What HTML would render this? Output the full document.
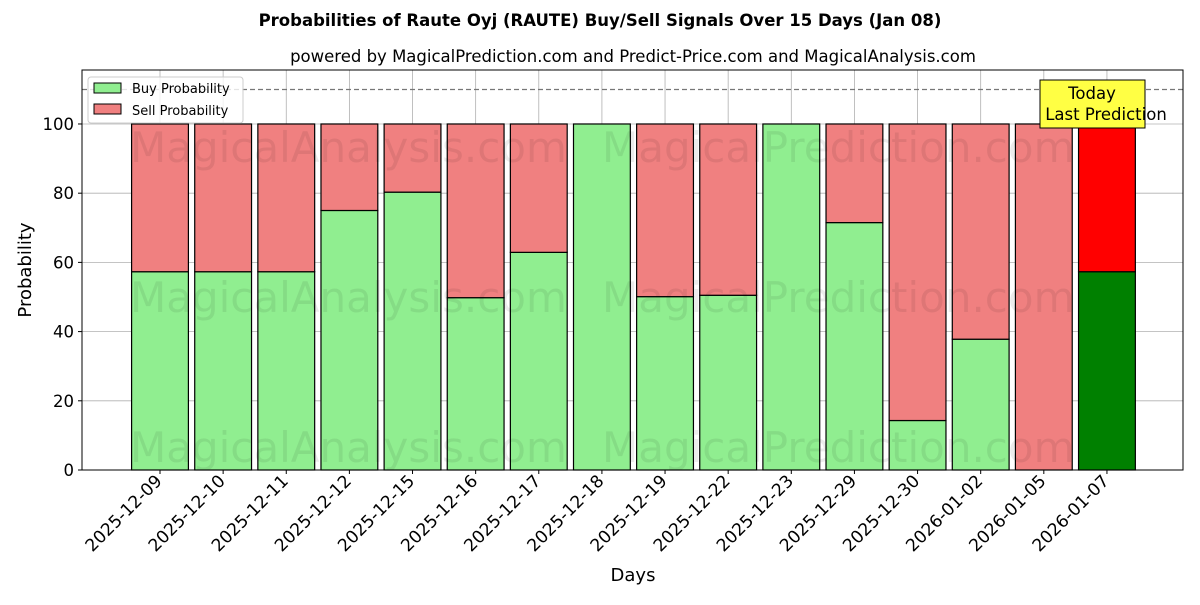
<!DOCTYPE html>
<html><head><meta charset="utf-8"><style>
body{margin:0;background:#fff;font-family:"Liberation Sans","DejaVu Sans",sans-serif}
svg text{font-family:"DejaVu Sans","Liberation Sans",sans-serif}
</style></head><body>
<svg id="chart" width="1200" height="600" xmlns="http://www.w3.org/2000/svg">
<text x="600" y="26" text-anchor="middle" font-size="16.5" font-weight="bold">Probabilities of Raute Oyj (RAUTE) Buy/Sell Signals Over 15 Days (Jan 08)</text>
<text x="633" y="62" text-anchor="middle" font-size="16.5">powered by MagicalPrediction.com and Predict-Price.com and MagicalAnalysis.com</text>
<g id="grid"></g>
<g id="bars"></g>
<g id="wm" font-size="42" fill="#000" opacity="0.07">
<text x="130" y="162">MagicalAnalysis.com</text><text x="602" y="162">MagicalPrediction.com</text>
<text x="130" y="312">MagicalAnalysis.com</text><text x="602" y="312">MagicalPrediction.com</text>
<text x="130" y="462">MagicalAnalysis.com</text><text x="602" y="462">MagicalPrediction.com</text>
</g>
<line x1="82" x2="1183" y1="89.5" y2="89.5" stroke="#777" stroke-dasharray="5,3" stroke-width="1.2"/>
<rect x="82" y="70" width="1101" height="400" fill="none" stroke="#000" stroke-width="1"/>
<g id="axes"></g>
<g>
<rect x="88" y="77" width="155" height="46" fill="#fff" fill-opacity="0.8" stroke="#ccc" rx="3"/>
<rect x="94" y="83" width="27" height="10" fill="#90ee90" stroke="#000"/>
<text x="132" y="93" font-size="13">Buy Probability</text>
<rect x="94" y="104" width="27" height="10" fill="#f08080" stroke="#000"/>
<text x="132" y="115" font-size="13">Sell Probability</text>
</g>
<g>
<rect x="1040" y="80" width="105" height="48" fill="#ffff44" stroke="#000"/>
<text x="1092" y="99" text-anchor="middle" font-size="16.5">Today</text>
<text x="1106" y="120" text-anchor="middle" font-size="16.5">Last Prediction</text>
</g>
<text x="633" y="581" text-anchor="middle" font-size="18">Days</text>
<text transform="translate(31,270) rotate(-90)" text-anchor="middle" font-size="18">Probability</text>
</svg>
<script>
const dates=["2025-12-09","2025-12-10","2025-12-11","2025-12-12","2025-12-15","2025-12-16","2025-12-17","2025-12-18","2025-12-19","2025-12-22","2025-12-23","2025-12-29","2025-12-30","2026-01-02","2026-01-05","2026-01-07"];
const buyVals=[57.3,57.3,57.3,75,80.3,49.8,62.9,100,50.1,50.5,100,71.5,14.3,37.8,0,57.3];
const yTicks=[0,20,40,60,80,100];
const NS="http://www.w3.org/2000/svg";
const X0=82,X1=1183,Y0=470,Y1=70,ymax=115.6;
const C0=160,STEP=63.13;
const xs=i=>C0+i*STEP;
const ys=v=>Y0-v/ymax*(Y0-Y1);
function mk(t,a,p){const e=document.createElementNS(NS,t);for(const k in a)e.setAttribute(k,a[k]);p.appendChild(e);return e;}
const grid=document.getElementById('grid'),bars=document.getElementById('bars'),axes=document.getElementById('axes');
yTicks.forEach(v=>{
 const g=mk('line',{x1:X0,x2:X1,y1:ys(v),y2:ys(v),stroke:'#b0b0b0','stroke-width':0.8},grid);
 
 
 mk('line',{x1:X0-4,x2:X0,y1:ys(v),y2:ys(v),stroke:'#000'},axes);
 const t=mk('text',{x:X0-8,y:ys(v)+6,'text-anchor':'end','font-size':16.5},axes);t.textContent=v;
 
 
});
const w=0.9*STEP;
dates.forEach((d,i)=>{
 const cx=xs(i);
 const gl=mk('line',{x1:cx,x2:cx,y1:Y1,y2:Y0,stroke:'#b0b0b0','stroke-width':0.8},grid);
 
 
 const last=i===dates.length-1;
 const b=buyVals[i];
 const br=mk('rect',{x:cx-w/2,y:ys(b),width:w,height:Y0-ys(b),fill:last?'#008000':'#90ee90',stroke:'#000','stroke-width':1.2},bars);
 
 
 const sr=mk('rect',{x:cx-w/2,y:ys(100),width:w,height:ys(b)-ys(100),fill:last?'#ff0000':'#f08080',stroke:'#000','stroke-width':1.2},bars);
 
 
 mk('line',{x1:cx,x2:cx,y1:Y0,y2:Y0+4,stroke:'#000'},axes);
 const t=mk('text',{x:0,y:0,'text-anchor':'end','font-size':17.2,transform:`translate(${cx+3},${Y0+12}) rotate(-45)`},axes);
 t.textContent=d;
 
 
});
</script>
</body></html>
